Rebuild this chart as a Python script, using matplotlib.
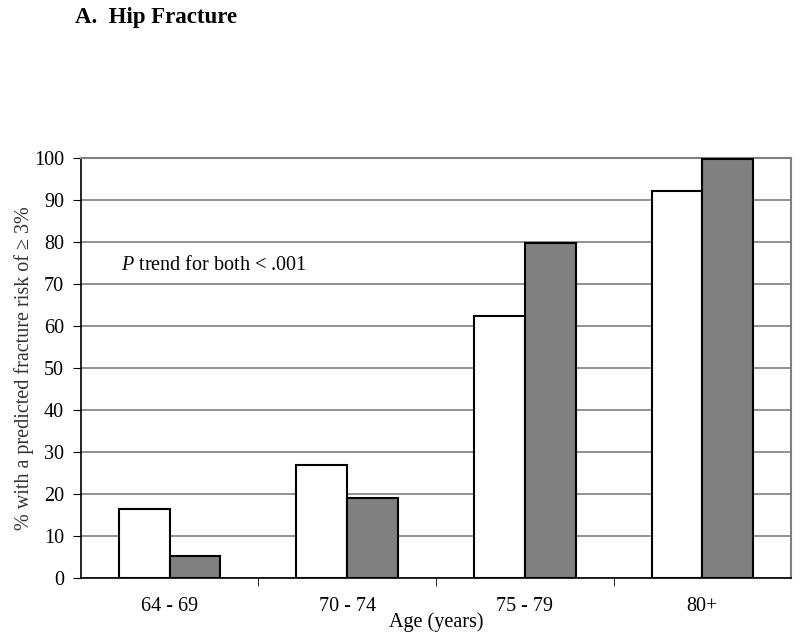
import numpy as np
import matplotlib.pyplot as plt

plt.rcParams['font.family'] = ['Liberation Serif', 'DejaVu Serif']
plt.rcParams['mathtext.fontset'] = 'custom'
plt.rcParams['mathtext.it'] = 'Liberation Serif:italic'
plt.rcParams['mathtext.rm'] = 'Liberation Serif'

ages = ["64 - 69", "70 - 74", "75 - 79", "80+"]
white_vals = [16.5, 26.8, 62.3, 92.2]
gray_vals = [5.2, 19.1, 79.7, 99.8]
y_ticks = [0, 10, 20, 30, 40, 50, 60, 70, 80, 90, 100]

fig = plt.figure(figsize=(8, 6.4), dpi=100)
ax = fig.add_axes([0.101, 0.0973, 0.888, 0.6554])

x = np.arange(len(ages))
w = 1 / 3.5
ax.bar(x - w / 2, white_vals, w, color="white", edgecolor="black", linewidth=1.5, zorder=3)
ax.bar(x + w / 2, gray_vals, w, color="#808080", edgecolor="black", linewidth=1.5, zorder=3)

ax.set_xlim(-0.5, len(ages) - 0.5)
ax.set_ylim(0, 100)
ax.set_yticks(y_ticks)
ax.yaxis.grid(True, color="#808080", linewidth=1.2, zorder=0)

ax.set_xticks(x)
ax.set_xticklabels(ages, fontsize=14.5)
ax.set_xticks(x[:-1] + 0.5, minor=True)
ax.tick_params(axis="x", which="major", length=0, pad=14)
ax.tick_params(axis="x", which="minor", length=6, direction="out")
ax.tick_params(axis="y", length=6, direction="out", labelsize=14.5, pad=6)

for s in ["top", "right"]:
    ax.spines[s].set_color("#808080")
    ax.spines[s].set_linewidth(1.5)
for s in ["left", "bottom"]:
    ax.spines[s].set_color("black")
    ax.spines[s].set_linewidth(1.2)

ax.set_xlabel("Age (years)", fontsize=14.5, labelpad=-3)
ax.set_ylabel("% with a predicted fracture risk of ≥ 3%", fontsize=14.5, color="#333333", labelpad=0)

ax.text(-0.275, 74.5, r"$\mathit{P}$ trend for both < .001", fontsize=14.5, va="center", ha="left")

fig.text(0.094, 0.972, "A.  Hip Fracture", fontsize=16.5, fontweight="bold", va="center", ha="left")

fig.savefig("out.png", dpi=100)
